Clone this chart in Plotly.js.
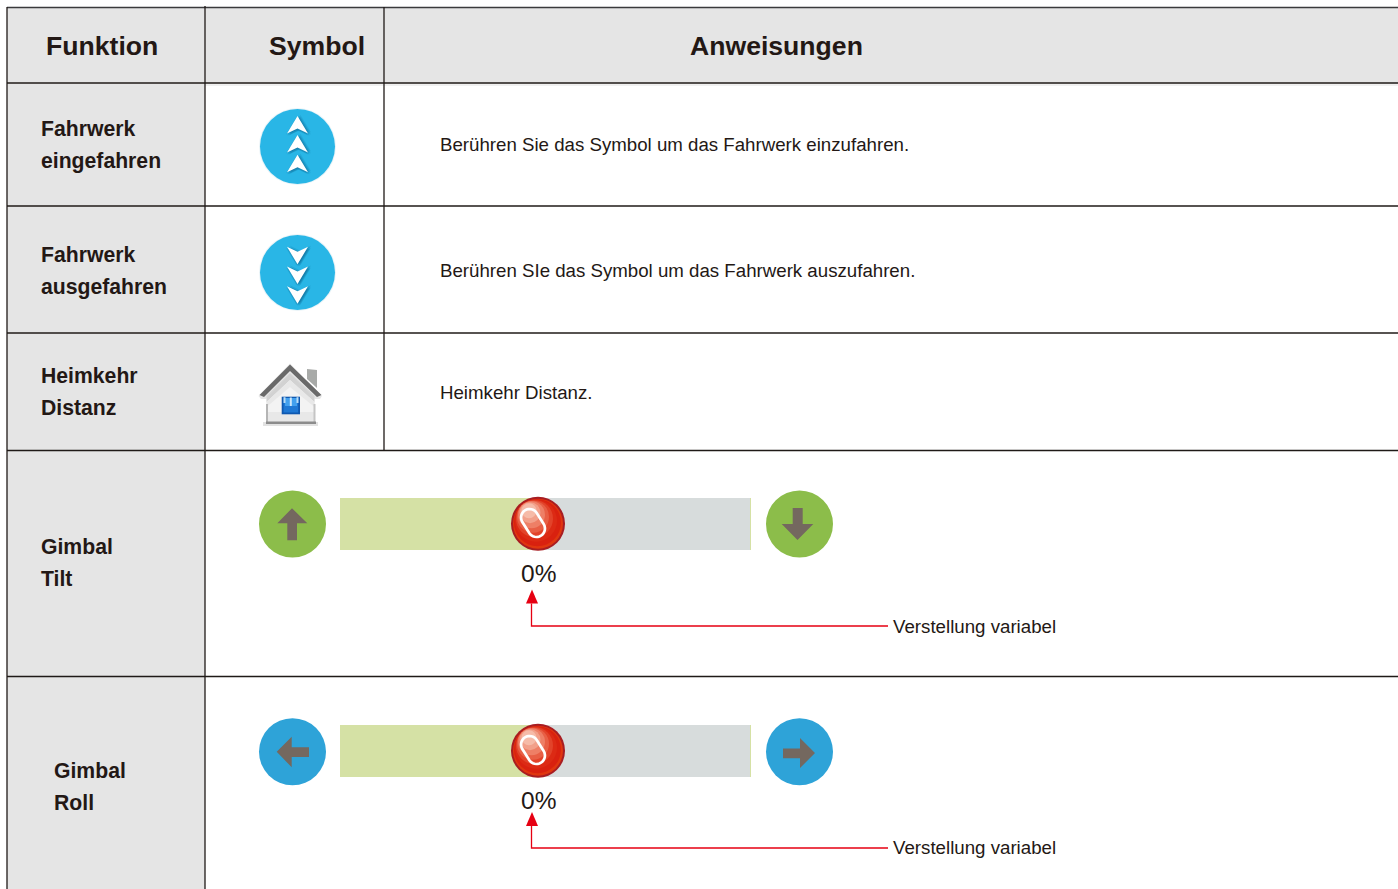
<!DOCTYPE html>
<html><head><meta charset="utf-8">
<script src="https://cdn.plot.ly/plotly-3.0.1.min.js"></script>
<style>html,body{margin:0;padding:0;background:#fff;overflow:hidden}#c{width:1398px;height:889px}</style>
</head><body><div id="c"></div>
<script>
const headers = ["Funktion", "Symbol", "Anweisungen"];
const headerX = [46, 269, 690];
const rowLabels = [["Fahrwerk", "eingefahren"], ["Fahrwerk", "ausgefahren"], ["Heimkehr", "Distanz"], ["Gimbal", "Tilt"], ["Gimbal", "Roll"]];
const rowLabelX = [40.6, 40.6, 40.6, 40.6, 53.6];
const rowLabelY = [[128.5, 160.5], [254.5, 286.5], [375.5, 407.5], [546.5, 578.5], [770.5, 802.5]];
const instructions = ["Berühren Sie das Symbol um das Fahrwerk einzufahren.", "Berühren SIe das Symbol um das Fahrwerk auszufahren.", "Heimkehr Distanz."];
const instructionY = [144.5, 270.5, 392];
const sliderValue = "0%";
const sliderNote = "Verstellung variabel";
const rowLines = [83, 206, 333, 450.5, 676.5];
const colLines = [205, 384];

const dark = "#1f1a17", textColor = "#231815", red = "#e60012";
const shapes = [];
const rect = (x0, y0, x1, y1, fill, extra) => shapes.push(Object.assign({type:"rect", x0, y0, x1, y1, fillcolor:fill, line:{width:0}}, extra||{}));
const line = (x0, y0, x1, y1, color, width) => shapes.push({type:"line", x0, y0, x1, y1, line:{color, width}});
const circ = (cx, cy, r, fill, extra) => shapes.push(Object.assign({type:"circle", x0:cx-r, y0:cy-r, x1:cx+r, y1:cy+r, fillcolor:fill, line:{width:0}}, extra||{}));
const poly = (pts, fill, extra) => shapes.push(Object.assign({type:"path", path:"M"+pts.map(p=>p[0]+" "+p[1]).join(" L")+" Z", fillcolor:fill, line:{width:0}}, extra||{}));
const stadium = (cx, cy, L, r, deg, fill, lineSpec) => {
  const pts = [], t = deg*Math.PI/180, d = L-r;
  for (let i=0;i<=16;i++){ const u=-Math.PI/2+i/16*Math.PI; pts.push([d+r*Math.cos(u), r*Math.sin(u)]); }
  for (let i=0;i<=16;i++){ const u=Math.PI/2+i/16*Math.PI; pts.push([-d+r*Math.cos(u), r*Math.sin(u)]); }
  poly(pts.map(([x,y]) => [+(cx+x*Math.cos(t)-y*Math.sin(t)).toFixed(2), +(cy+x*Math.sin(t)+y*Math.cos(t)).toFixed(2)]), fill, {line:lineSpec||{width:0}});
};

// table backgrounds
rect(7, 7.5, 1398, 83, "#e5e5e5");
rect(205, 83, 1398, 86, "#f0f0f0");
rect(7, 83, 205, 889, "#e5e5e5");
// table rules
line(7, 7.5, 1398, 7.5, "#3a3a3c", 1.6);
rowLines.forEach(y => line(7, y, 1398, y, dark, 1.3));
line(7, 7, 7, 889, dark, 1.3);
line(colLines[0], 6, colLines[0], 889, dark, 1.3);
line(colLines[1], 7, colLines[1], 450.5, dark, 1.3);

// landing gear icons
function gearIcon(cy, tips, dir) {
  circ(297.5, cy, 38.5, "#eaf4f8");
  circ(297.5, cy, 37.5, "#29b6e6");
  tips.forEach(t => {
    const pts = [[297.5, t], [308, t+dir*17.5], [297.5, t+dir*12.5], [287, t+dir*17.5]];
    [[0,0],[1,0],[2,0],[3,1],[2,2],[1,2],[0,2],[3,-1],[-1,1]].forEach(([dx,dy]) =>
      poly(pts.map(p=>[p[0]+dx, p[1]+dy]), "#0f6f99", {opacity:.18}));
    poly(pts, "#ffffff");
  });
}
gearIcon(146.5, [116, 135, 154.7], 1);
gearIcon(272.5, [264.3, 284, 303.7], -1);

// home icon
poly([[307,369],[317,370],[317,388],[307,379]], "#a8aaa8");
rect(263, 422, 318, 426, "#d5d5d5", {opacity:.7});
poly([[266.5,396],[290,373],[314.5,396],[314.5,423],[266.5,423]], "#f3f3f3");
poly([[266.5,396],[290,373],[314.5,396],[314.5,402],[290,380],[266.5,402]], "#d2d2d2");
poly([[266.5,402],[290,380],[314.5,402],[314.5,407],[290,387],[266.5,407]], "#e8e8e8");
rect(266.5, 412, 314.5, 423, "#e8e8e8");
rect(266, 404, 268, 424, "#b5b5b5");
rect(313.5, 404, 315.5, 424, "#c5c5c5");
rect(266, 421.5, 316, 424, "#8c8c8c");
poly([[258.5,396],[290,363.5],[322,396],[320,399],[315,399],[290,374],[266,399],[261,399]], "#d9d9d9", {opacity:.65});
poly([[259.5,395],[290,364.5],[321.5,395],[317,397],[290,371],[264,397]], "#6a6a6a");
rect(281.7, 396.7, 300, 414.3, "#0f58b0");
rect(283.5, 398.5, 298.2, 412.5, "#1f78d4");
rect(285, 398, 297, 406, "#42a0ee");
rect(289.8, 397.5, 291.8, 406, "#cfe7fa");
rect(283.5, 397.2, 285.5, 403, "#b9dcf6");
rect(296.5, 397.2, 298.5, 403, "#b9dcf6");

// slider rows
function sliderRow(cy, barY, circleColor, leftPts, rightPts, noteY, triTop) {
  circ(292.5, cy, 33.5, circleColor);
  circ(799.5, cy, 33.5, circleColor);
  poly(leftPts, "#74685f");
  poly(rightPts, "#74685f");
  rect(340, barY-26, 538, barY+26, "#d5e1a5");
  rect(538, barY-26, 750, barY+26, "#d7dcdc");
  rect(750, barY-26, 751, barY+26, "#d5e1a5");
  const ky = barY - 0.3;
  circ(538, ky, 27, "#a81d22");
  circ(538, ky, 25, "#e0360f");
  circ(537.5, ky-1, 23.5, "#d9210f");
  [[536,-3,21,"#dc2a14"],[534.5,-5,18.5,"#e2432a"],[533,-7,16,"#e85f45"],[531.5,-9,13.5,"#ee7f66"],[530,-11,10.5,"#f2a08a"],[529,-13,7.5,"#f6bba8"]]
    .forEach(([x,dy,r,c]) => circ(x, ky+dy, r, c));
  stadium(533, ky-0.7, 15, 8.5, 58, "rgba(0,0,0,0)", {color:"#ffffff", width:2.7});
  poly([[526, triTop+14],[532, triTop],[538, triTop+14]], red);
  shapes.push({type:"path", path:`M531.5 ${triTop+14} V${noteY} H888`, line:{color:red, width:1.3}, fillcolor:"rgba(0,0,0,0)"});
}
sliderRow(524, 524, "#8cbd4a",
  [[292,508.3],[307.3,523.3],[297,523.3],[297,540.3],[287.3,540.3],[287.3,523.3],[277.3,523.3]],
  [[792.7,508],[802.7,508],[802.7,524],[813.3,524],[797.5,540],[781.7,524],[792.7,524]],
  626, 589.5);
sliderRow(751.7, 751, "#2ea3d8",
  [[276.7,751.7],[291.7,736.7],[291.7,747.3],[309,747.3],[309,757],[291.7,757],[291.7,767.3]],
  [[815,753],[800,738],[800,748.5],[783,748.5],[783,758.2],[800,758.2],[800,768]],
  848, 812);

// text
const annotations = [];
const txt = (text, x, y, size, bold, xanchor) => annotations.push({text, x, y, xref:"x", yref:"y", showarrow:false, xanchor:xanchor||"left", yanchor:"middle", borderpad:0, borderwidth:0,
  font:{family:'"Liberation Sans", Arial, sans-serif', size, color:textColor, weight:bold?700:400}});
headers.forEach((h,i) => txt("<b>"+h+"</b>", headerX[i], 46, 26.6, true));
rowLabels.forEach((lines,i) => lines.forEach((l,j) => txt("<b>"+l+"</b>", rowLabelX[i], rowLabelY[i][j], 21.2, true)));
instructions.forEach((t,i) => txt(t, 440, instructionY[i], 18.68, false));
txt(sliderValue, 521, 573, 24.5, false);
txt(sliderValue, 521, 800, 24.5, false);
txt(sliderNote, 893, 626, 18.7, false);
txt(sliderNote, 893, 847, 18.7, false);

Plotly.newPlot("c", [{type:"scatter", mode:"markers", x:[0,1398], y:[0,889], marker:{opacity:0, size:1}, hoverinfo:"skip", showlegend:false}], {
  width:1398, height:889, margin:{l:0,r:0,t:0,b:0,pad:0},
  paper_bgcolor:"#ffffff", plot_bgcolor:"#ffffff", showlegend:false,
  xaxis:{range:[0,1398], visible:false, fixedrange:true},
  yaxis:{range:[889,0], visible:false, fixedrange:true},
  shapes, annotations
}, {displayModeBar:false, staticPlot:true});
</script></body></html>
